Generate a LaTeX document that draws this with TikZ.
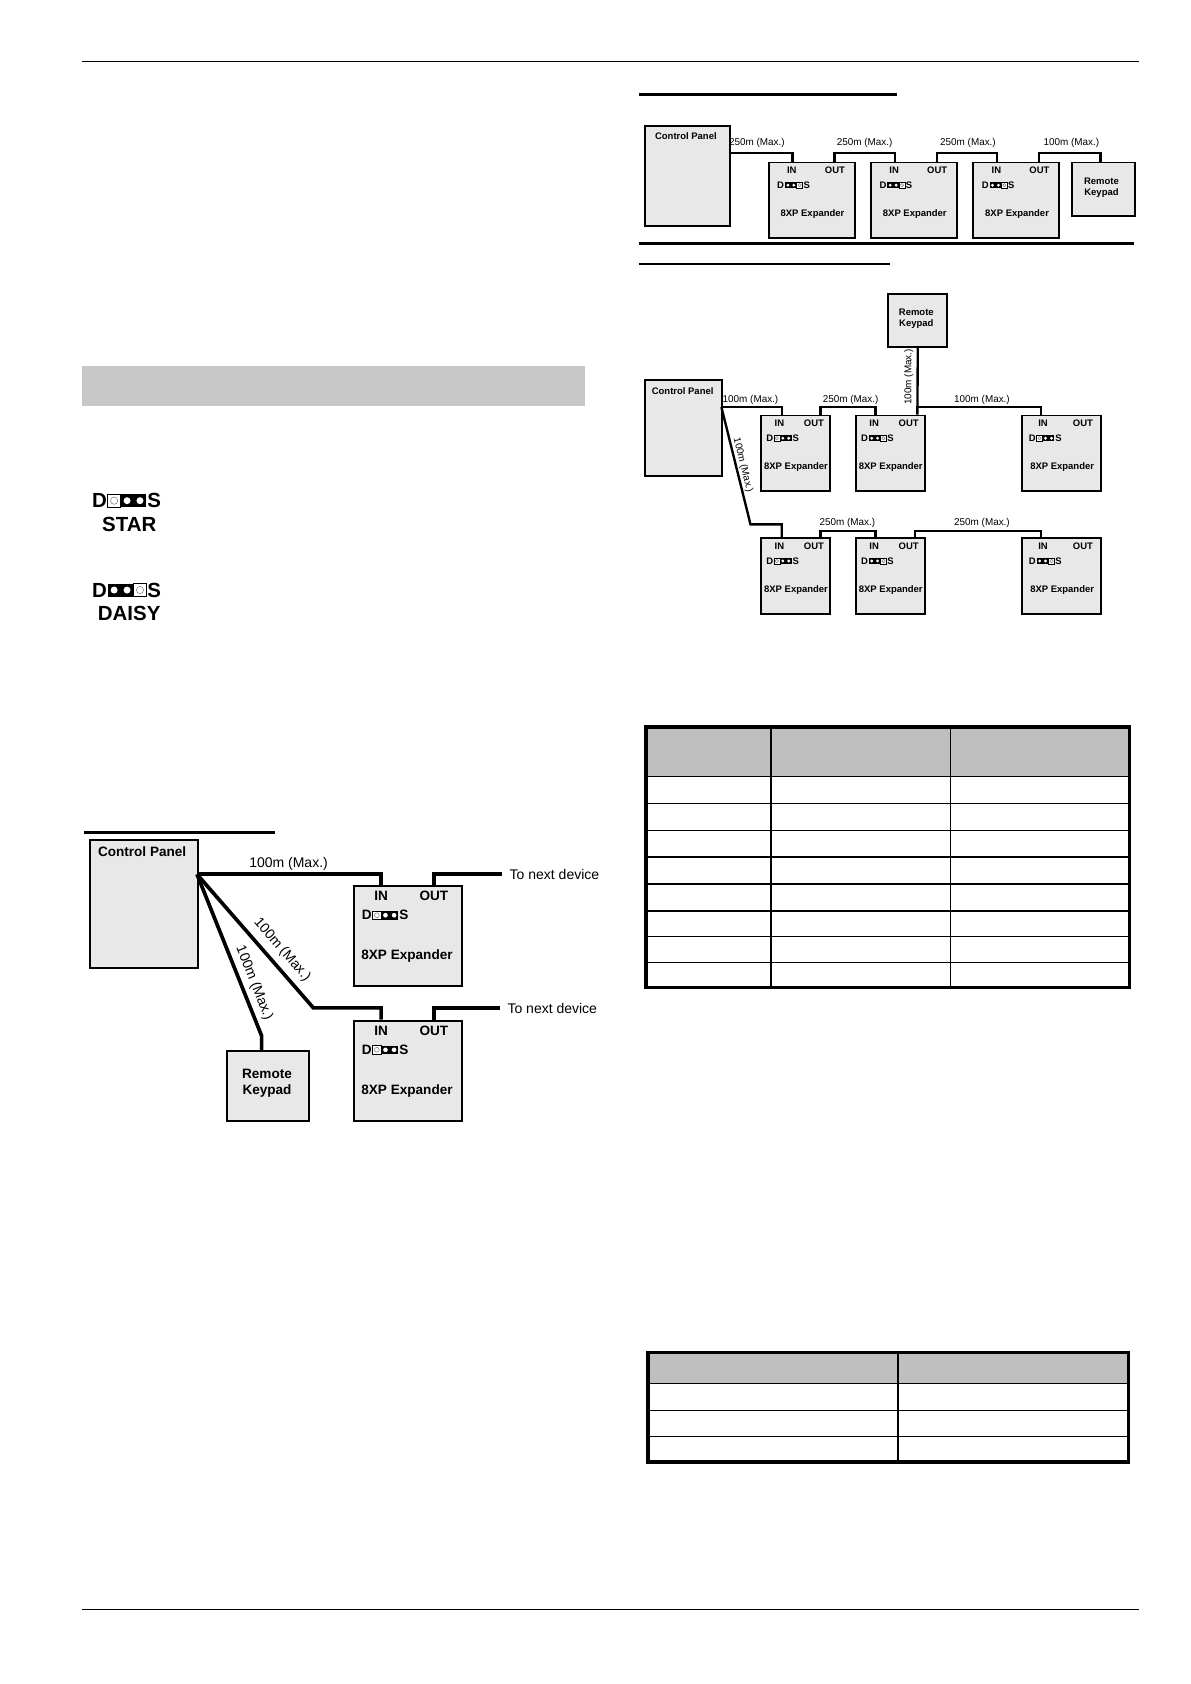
\documentclass[tikz,border=0pt]{standalone}
\usepackage{fontspec}
\setmainfont{Liberation Sans}
\tikzset{
 box/.style={draw=black,fill=black!9,line width=0.9pt,anchor=north west,inner sep=0pt},
 wire/.style={line width=1.7pt},
 twire/.style={line width=1.1pt},
 lbl/.style={inner sep=0.5pt,font=\fontsize{6.5}{7}\selectfont},
 tlbl/.style={inner sep=0.5pt,font=\fontsize{4.6}{5}\selectfont},
 btxt/.style={inner sep=0.5pt,font=\bfseries\fontsize{6.3}{7.5}\selectfont},
 tbtxt/.style={inner sep=0.5pt,font=\bfseries\fontsize{4.4}{5.2}\selectfont},
 rule/.style={line width=0.6pt},
}
\newcommand\bx[6]{\node[box,minimum width={(#4-#2)*0.5pt},minimum height={(#5-#3)*0.5pt},#6] (#1) at (#2,#3) {};}
% jumper: x y cell star(1)/daisy(0) font
\newcommand\jp[5]{%
 \begin{scope}[shift={(#1,#2)}]
  \node[anchor=east,inner sep=0.2pt,font=#5] at (0,0) {D};
  \ifnum#4=1
   \draw[fill=white,line width=0.3pt] (0,-#3/2) rectangle (#3,#3/2);
   \draw[gray,line width=0.25pt] (#3/2,0) circle (#3*0.28);
   \fill (#3,-#3/2) rectangle (3*#3,#3/2);
   \fill[white] (1.5*#3,0) circle (#3*0.27) (2.5*#3,0) circle (#3*0.27);
  \else
   \fill (0,-#3/2) rectangle (2*#3,#3/2);
   \draw[fill=white,line width=0.3pt] (2*#3,-#3/2) rectangle (3*#3,#3/2);
   \draw[gray,line width=0.25pt] (2.5*#3,0) circle (#3*0.28);
   \fill[white] (0.5*#3,0) circle (#3*0.27) (1.5*#3,0) circle (#3*0.27);
  \fi
  \node[anchor=west,inner sep=0.2pt,font=#5] at (3*#3,0) {S};
 \end{scope}}
% big expander (left diagram)
\newcommand\bigexp[4]{% name x1 y1 star
 \bx{#1}{#2}{#3}{#2+100}{#3+93}{}
 \node[btxt] at (#2+26,#3+10) {IN};
 \node[btxt] at (#2+75,#3+10) {OUT};
 \jp{#2+18}{#3+28}{8}{#4}{\bfseries\fontsize{6.3}{7}\selectfont}
 \node[btxt] at (#2+50,#3+66) {8XP Expander};}
% small expander (right diagrams)
\newcommand\smexp[5]{% name x1 y1 width star
 \bx{#1}{#2}{#3}{#2+#4}{#3+70}{}
 \node[tbtxt] at (#2+0.28*#4,#3+8) {IN};
 \node[tbtxt] at (#2+0.78*#4,#3+8) {OUT};
 \jp{#2+0.2*#4}{#3+22}{5.5}{#5}{\bfseries\fontsize{4.4}{5}\selectfont}
 \node[tbtxt] at (#2+0.52*#4,#3+49) {8XP Expander};}
\begin{document}
\begin{tikzpicture}[x=0.5pt,y=-0.5pt]
\useasboundingbox (0,0) rectangle (1106,1564);
\fill[white] (0,0) rectangle (1106,1564);
% page rules
\draw[rule] (76,57) -- (1058,57);
\draw[rule] (76,1495) -- (1058,1495);
\fill[black!22] (76,340) rectangle (543,377);
% STAR / DAISY
\jp{100}{465}{12}{1}{\bfseries\fontsize{9.5}{11}\selectfont}
\node[inner sep=0pt,font=\bfseries\fontsize{9.5}{11}\selectfont] (star) at (120,487) {STAR};
\jp{100}{548}{12}{0}{\bfseries\fontsize{9.5}{11}\selectfont}
\node[inner sep=0pt,font=\bfseries\fontsize{9.5}{11}\selectfont] (daisy) at (120,570) {DAISY};
% ---------- left diagram ----------
\draw[line width=1.2pt] (78,773) -- (255,773);
\bx{cpL}{83}{779}{183}{898}{}
\node[btxt] at (132,791) {Control Panel};
\bigexp{eL1}{328}{822}{1}
\bigexp{eL2}{328}{947}{1}
\bx{kL}{210}{975}{286}{1040}{}
\node[btxt,align=center] at (248,1006) {Remote\\Keypad};
\coordinate (hub) at (183,812);
\draw[wire] (hub) -- (354,812) -- (354,822);
\draw[wire] (403,822) -- (403,812) -- (466,812) coordinate (n1);
\node[lbl,anchor=west] at (472,812) {To next device};
\node[lbl] at (268,802) {100m (Max.)};
\draw[wire] (hub) -- (291,936) -- (354,936) -- (354,947);
\draw[wire] (403,947) -- (403,936) -- (464,936) coordinate (n2);
\node[lbl,anchor=west] at (470,937) {To next device};
\draw[wire] (hub) -- (243,962) -- (243,975);
\node[lbl,rotate=-48.9] at (262,882) {100m (Max.)};
\node[lbl,rotate=-68.2] at (236,913) {100m (Max.)};
% ---------- top right diagram ----------
\draw[line width=1.2pt] (593,88) -- (833,88);
\bx{cpT}{598}{116}{677}{209}{}
\node[tbtxt] at (637,126) {Control Panel};
\smexp{eT1}{713}{150}{80}{0}
\smexp{eT2}{808}{150}{80}{0}
\smexp{eT3}{903}{150}{80}{0}
\bx{kT}{995}{150}{1053}{200}{}
\node[tbtxt,align=center] at (1023,174) {Remote\\Keypad};
\draw[twire] (677,142) -- (736,142) -- (736,150);
\draw[twire] (775,150) -- (775,142) -- (831,142) -- (831,150);
\draw[twire] (870,150) -- (870,142) -- (926,142) -- (926,150);
\draw[twire] (965,150) -- (965,142) -- (1022,142) -- (1022,150);
\node[tlbl] at (703,133) {250m (Max.)};
\node[tlbl] at (803,133) {250m (Max.)};
\node[tlbl] at (899,133) {250m (Max.)};
\node[tlbl] at (995,133) {100m (Max.)};
\draw[line width=1.2pt] (593,226) -- (1053,226);
% ---------- second right diagram ----------
\draw[line width=1.2pt] (593,245) -- (827,245);
\bx{kR}{824}{272}{879}{321}{}
\node[tbtxt,align=center] at (851,296) {Remote\\Keypad};
\bx{cpR}{598}{352}{670}{441}{}
\node[tbtxt] at (634,363) {Control Panel};
\smexp{eA1}{706}{385}{64}{1}
\smexp{eA2}{794}{385}{64}{0}
\smexp{eA3}{948}{385}{74}{1}
\smexp{eB1}{706}{499}{64}{1}
\smexp{eB2}{794}{499}{64}{0}
\smexp{eB3}{948}{499}{74}{0}
\coordinate (hubR) at (670,378);
\draw[twire] (hubR) -- (726,378) -- (726,385);
\draw[twire] (762,385) -- (762,378) -- (813,378) -- (813,385);
\draw[twire] (kR.south) -- (852,385);
\draw[twire] (852,378) -- (967,378) -- (967,385);
\draw[twire] (hubR) -- (697,487) -- (726,487) -- (726,499);
\draw[twire] (762,499) -- (762,493) -- (813,493) -- (813,499);
\draw[twire] (850,499) -- (850,493) -- (967,493) -- (967,499);
\node[tlbl] at (697,371) {100m (Max.)};
\node[tlbl] at (790,371) {250m (Max.)};
\node[tlbl] at (912,371) {100m (Max.)};
\node[tlbl,rotate=90] at (844,350) {100m (Max.)};
\node[tlbl,rotate=-76] at (690,432) {100m (Max.)};
\node[tlbl] at (787,486) {250m (Max.)};
\node[tlbl] at (912,486) {250m (Max.)};
% ---------- table 1 ----------
\fill[black!25] (600,675) rectangle (1049,721);
\foreach \y in {721,746,771,796,821,846,870,894} \draw[line width=0.6pt] (600,\y) -- (1049,\y);
\draw[line width=0.6pt] (716,675) -- (716,917) (883,675) -- (883,917);
\draw[line width=1.6pt] (600,675) rectangle (1049,917);
% ---------- table 2 ----------
\fill[black!25] (602,1256) rectangle (1048,1285);
\foreach \y in {1285,1310,1334} \draw[line width=0.6pt] (602,\y) -- (1048,\y);
\draw[line width=0.6pt] (834,1256) -- (834,1358);
\draw[line width=1.6pt] (602,1256) rectangle (1048,1358);
\end{tikzpicture}
\end{document}
